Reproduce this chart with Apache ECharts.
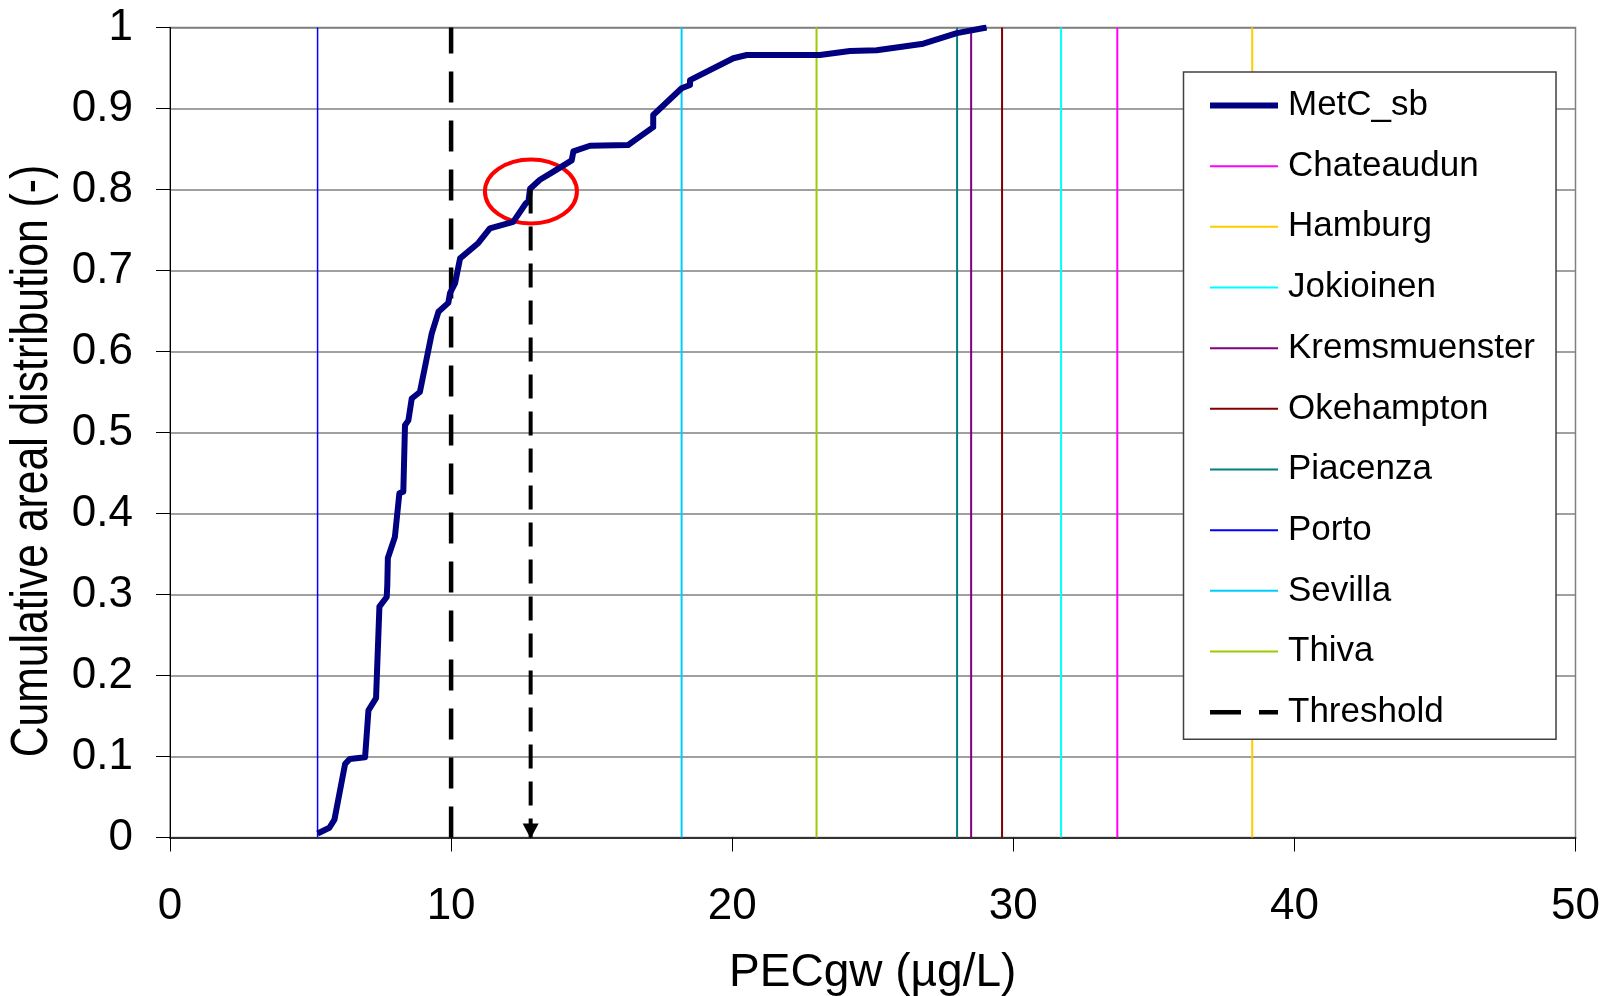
<!DOCTYPE html>
<html>
<head>
<meta charset="utf-8">
<script src="https://cdn.jsdelivr.net/npm/echarts@6/dist/echarts.min.js"></script>
<style>
html,body{margin:0;padding:0;background:#fff;}
#chart{width:1604px;height:996px;}
</style>
</head>
<body>
<div id="chart"></div>
<script>
// ---- data ----
const curveX = [5.25,5.67,5.85,6.23,6.40,6.94,7.06,7.33,7.45,7.71,7.73,7.75,8.00,8.16,8.30,8.36,8.48,8.60,8.89,9.31,9.55,9.90,9.96,10.14,10.32,10.97,11.38,12.21,12.66,12.75,12.81,13.16,13.64,14.29,14.35,14.94,16.30,16.54,17.19,17.19,18.20,18.50,18.50,20.04,20.52,23.12,24.19,25.14,26.80,27.99,29.05];
const curveY = [0.005,0.012,0.022,0.091,0.097,0.099,0.157,0.172,0.285,0.297,0.312,0.345,0.371,0.425,0.427,0.509,0.515,0.542,0.550,0.622,0.649,0.660,0.672,0.684,0.715,0.734,0.752,0.760,0.783,0.785,0.801,0.812,0.822,0.836,0.847,0.854,0.855,0.861,0.877,0.892,0.925,0.929,0.935,0.962,0.966,0.966,0.971,0.972,0.980,0.993,1.000];
const stationNames  = ['Chateaudun','Hamburg','Jokioinen','Kremsmuenster','Okehampton','Piacenza','Porto','Sevilla','Thiva'];
const stationValues = [33.7, 38.5, 31.7, 28.5, 29.6, 28.0, 5.25, 18.2, 23.0];
const stationColors = ['#FF00FF','#FFCC00','#00FFFF','#800080','#800000','#008080','#0000FF','#00CCFF','#99CC00'];
const thresholdValue = 10;
const arrowX = 12.83;          // PECgw where curve crosses 0.8
const arrowTopY = 0.80;
const highlightPoint = [12.84, 0.7975];
const xTicks = [0, 50, 10];    // min, max, interval
const yTicks = [0, 1, 0.1];

const FONT = "'Liberation Sans', Arial, Helvetica, sans-serif";
const chart = echarts.init(document.getElementById('chart'), null, {renderer:'canvas'});

const CURVE_W = 6, THR_W = 4.5, THR_DASH = [31, 18];
const series = [];
stationNames.forEach((n, i) => {
  series.push({
    name: n, type: 'line', symbol: 'none', z: 2, silent: true,
    data: [[stationValues[i], yTicks[0]], [stationValues[i], yTicks[1]]],
    lineStyle: {color: stationColors[i], width: n === 'Porto' ? 1.5 : 2},
    itemStyle: {color: stationColors[i]}
  });
});
series.push({
  name: 'Threshold', type: 'line', symbol: 'none', z: 3, silent: true,
  data: [[thresholdValue, yTicks[0]], [thresholdValue, yTicks[1]]],
  lineStyle: {color: '#000', width: THR_W, type: THR_DASH},
  itemStyle: {color: '#000'}
});
series.push({
  name: 'highlight', type: 'custom', z: 4, silent: true,
  data: [highlightPoint],
  renderItem: function (params, api) {
    const p = api.coord([api.value(0), api.value(1)]);
    return {type: 'ellipse', shape: {cx: p[0], cy: p[1], rx: 46, ry: 32},
      style: {fill: 'none', stroke: '#FF0000', lineWidth: 4}};
  }
});
series.push({
  name: 'MetC_sb', type: 'line', symbol: 'none', z: 5, silent: true,
  data: curveX.map((x, i) => [x, curveY[i]]),
  lineStyle: {color: '#000080', width: CURVE_W, join: 'round'},
  itemStyle: {color: '#000080'}
});
series.push({
  name: 'arrow', type: 'line', z: 6, silent: true, showSymbol: true,
  data: [
    {value: [arrowX, arrowTopY], symbol: 'none'},
    {value: [arrowX, yTicks[0]], symbol: 'triangle', symbolRotate: 180, symbolSize: [16, 15], symbolOffset: [0, -6.5]}
  ],
  lineStyle: {color: '#000', width: 4, type: [24, 13]},
  itemStyle: {color: '#000'}
});

const legendData = [{name: 'MetC_sb', lineStyle: {width: CURVE_W}}]
  .concat(stationNames.map(n => ({name: n, lineStyle: {width: 2}})))
  .concat([{name: 'Threshold', lineStyle: {width: THR_W, type: THR_DASH}}]);

chart.setOption({
  animation: false,
  backgroundColor: '#fff',
  grid: {left: 170, right: 28.5, top: 27.5, bottom: 158.5, containLabel: false, outerBoundsMode: 'none',
    show: true, borderColor: '#808080', borderWidth: 1.5, backgroundColor: 'transparent'},
  xAxis: {
    type: 'value', min: xTicks[0], max: xTicks[1], interval: xTicks[2],
    name: 'PECgw (µg/L)', nameLocation: 'middle', nameGap: 113,
    nameTextStyle: {fontSize: 46, fontFamily: FONT, color: '#000'},
    axisLine: {show: true, onZero: false, lineStyle: {color: '#333', width: 2}},
    axisTick: {show: true, inside: false, length: 14, lineStyle: {color: '#000', width: 1}},
    axisLabel: {fontSize: 44, fontFamily: FONT, color: '#000', margin: 47},
    splitLine: {show: false}
  },
  yAxis: {
    type: 'value', min: yTicks[0], max: yTicks[1], interval: yTicks[2],
    axisLine: {show: true, onZero: false, lineStyle: {color: '#000', width: 1}},
    axisTick: {show: true, inside: false, length: 14, lineStyle: {color: '#000', width: 1}},
    axisLabel: {fontSize: 44, fontFamily: FONT, color: '#000', margin: 37},
    splitLine: {show: true, lineStyle: {color: '#808080', width: 1.5}}
  },
  legend: {
    orient: 'vertical', left: 1183.5, top: 72, selectedMode: false,
    data: legendData,
    padding: [13.5, 21, 7, 23.5],
    itemWidth: 68, itemHeight: 14, itemGap: 20.67,
    itemStyle: {opacity: 0},
    backgroundColor: '#fff', borderColor: '#404040', borderWidth: 1.5,
    textStyle: {fontSize: 35, fontFamily: FONT, color: '#000', lineHeight: 40, padding: [0, 0, 0, 5]}
  },
  graphic: [{
    type: 'text', x: 33, y: 461, rotation: Math.PI / 2, scaleX: 0.82, z: 10,
    style: {text: 'Cumulative areal distribution (-)', fill: '#000',
      font: "52px 'Liberation Sans', Arial, sans-serif",
      textAlign: 'center', textVerticalAlign: 'middle'}
  }],
  series: series
});
</script>
</body>
</html>
